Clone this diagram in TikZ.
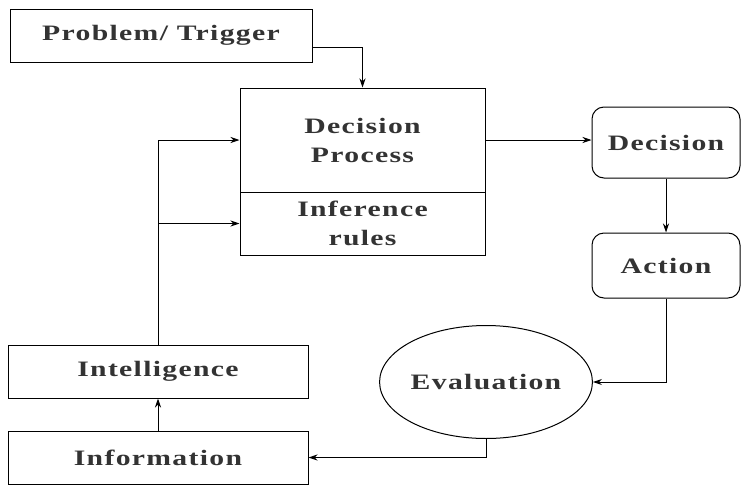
\documentclass[tikz,border=0pt]{standalone}
\usepackage{fontspec}
\setmainfont{Liberation Serif}[LetterSpace=6, FakeStretch=1.35]
\usetikzlibrary{positioning, shapes.geometric, arrows.meta}

\begin{document}
\begin{tikzpicture}[x=1pt, y=1pt, node distance=32pt,
        box/.style={draw, line width=1pt, inner sep=0pt, align=center, text=black!80,
                font=\bfseries\fontsize{22}{29}\selectfont},
        roundbox/.style={box, rounded corners=12pt},
        >={Stealth[length=9pt, width=6pt]}]
        \useasboundingbox (0,0) rectangle (742,-485);

        % Nodes
        \node[box, minimum width=302pt, minimum height=53pt] (trigger) at (161,-35.5) {Problem/ Trigger};
        \node[box, minimum width=245pt, minimum height=104pt] (dp) at (362.5,-140) {Decision\\Process};
        \node[box, minimum width=245pt, minimum height=63pt, below=-1pt of dp] (rules) {Inference\\rules};
        \node[roundbox, minimum width=148pt, minimum height=71pt] (decision) at (666,-142.5) {Decision};
        \node[roundbox, minimum width=148pt, minimum height=65pt, below=54pt of decision] (action) {Action};
        \node[box, ellipse, minimum width=207pt, minimum height=113pt] (eval) at (486,-382) {Evaluation};
        \node[box, minimum width=300pt, minimum height=53pt] (intel) at (158,-371.5) {Intelligence};
        \node[box, minimum width=300pt, minimum height=53pt, below=of intel] (info) {Information};

        % Edges
        \draw[->, line width=1pt] ([yshift=-12pt]trigger.east) -| (dp.north);
        \draw[->, line width=1pt] (dp.east) -- (dp.east -| decision.west);
        \draw[->, line width=1pt] (decision) -- (action);
        \draw[->, line width=1pt] (action.south) |- (eval.east);
        \draw[->, line width=1pt] (eval.south) |- (info.east);
        \draw[->, line width=1pt] (info) -- (intel);
        \draw[->, line width=1pt] (intel.north) |- (dp.west);
        \draw[->, line width=1pt] (intel.north |- rules.west) -- (rules.west);
\end{tikzpicture}
\end{document}
